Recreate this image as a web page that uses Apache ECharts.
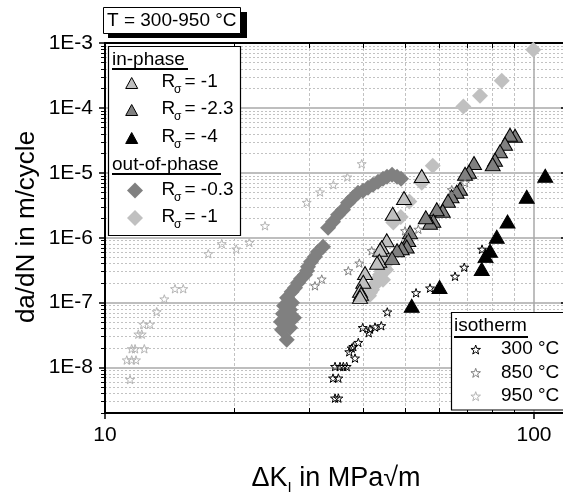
<!DOCTYPE html>
<html>
<head>
<meta charset="utf-8">
<script src="https://cdn.jsdelivr.net/npm/echarts@6/dist/echarts.min.js"></script>
<style>
html, body { margin: 0; padding: 0; background: #fff; }
#chart { width: 563px; height: 498px; }
</style>
</head>
<body>
<div id="chart"></div>
<script>
// Crack growth rate da/dN versus stress intensity range ΔK (log-log)

// in-phase, R_sigma = -1
const ipR1 = [[54.73,8.93e-6],[49.77,4.09e-6],[46.84,2.34e-6],[45.36,9.15e-7],[44.16,7.14e-7],[43.75,6.53e-7],
  [43.59,4.43e-7],[43.06,4.12e-7],[40.37,2.86e-7],[40.00,2.10e-7],[39.30,1.53e-7],[39.51,1.37e-7],[39.30,1.23e-7]];
// in-phase, R_sigma = -2.3
const ipR23 = [[90.31,3.73e-5],[87.90,3.86e-5],[85.57,2.81e-5],[83.31,2.15e-5],[81.11,1.59e-5],[80.11,1.36e-5],
  [72.46,1.42e-5],[70.55,1.04e-5],[69.06,9.69e-6],[67.23,5.69e-6],[66.04,5.12e-6],[64.23,4.36e-6],[63.03,3.72e-6],
  [61.27,2.61e-6],[59.33,2.75e-6],[58.25,1.83e-6],[57.23,1.70e-6],[55.93,2.07e-6],[51.40,1.22e-6],[50.93,9.22e-7],
  [50.49,7.34e-7],[49.16,6.89e-7],[47.94,6.42e-7],[46.67,4.86e-7]];
// in-phase, R_sigma = -4
const ipR4 = [[51.87,8.95e-8],[60.22,1.74e-7],[75.53,3.30e-7],[77.09,5.22e-7],[78.96,6.31e-7],[81.87,1.04e-6],
  [86.74,1.78e-6],[96.16,4.28e-6],[106.2,9.02e-6]];
// out-of-phase, R_sigma = -0.3
const oopR03 = [[26.52,2.68e-8],[25.86,3.82e-8],[27.00,4.10e-8],[25.72,5.08e-8],[26.71,5.45e-8],[27.58,5.85e-8],
  [25.99,6.75e-8],[27.00,7.78e-8],[26.14,8.95e-8],[27.29,9.96e-8],[26.57,1.19e-7],[27.24,1.47e-7],[27.73,1.70e-7],
  [28.18,2.03e-7],[28.63,2.33e-7],[29.25,2.69e-7],[29.57,3.10e-7],[29.73,3.57e-7],[30.21,4.27e-7],[30.86,5.09e-7],
  [31.37,6.08e-7],[32.23,7.26e-7],[33.11,1.43e-6],[34.00,1.77e-6],[34.93,2.26e-6],[35.87,2.70e-6],[36.85,3.46e-6],
  [37.85,4.13e-6],[38.88,4.93e-6],[39.94,5.30e-6],[41.02,5.89e-6],[42.14,6.56e-6],[43.29,7.30e-6],[44.46,8.11e-6],
  [45.43,8.71e-6],[46.67,9.35e-6],[47.94,8.71e-6],[48.98,8.11e-6]];
// out-of-phase, R_sigma = -1
const oopR1 = [[99.63,7.88e-4],[84.08,2.63e-4],[74.84,1.54e-4],[68.43,1.05e-4],[58.06,1.29e-5],[54.73,7.04e-6],
  [51.21,3.62e-6],[48.90,2.08e-6],[46.99,1.72e-6],[45.68,4.58e-7],[45.19,3.97e-7],[45.19,3.21e-7],[44.70,3.45e-7],
  [44.22,3.10e-7],[43.75,2.69e-7],[44.46,2.25e-7],[43.29,2.33e-7],[42.82,2.03e-7],[42.36,1.82e-7],[41.91,1.58e-7],
  [41.46,1.42e-7],[41.24,1.28e-7]];
// isothermal tests
const iso300 = [[34.37,3.39e-9],[34.99,3.39e-9],[34.00,6.89e-9],[34.99,6.89e-9],[34.37,1.04e-8],[35.30,1.04e-8],
  [35.93,1.04e-8],[36.59,1.04e-8],[38.26,1.40e-8],[37.10,1.75e-8],[37.58,2.00e-8],[37.91,2.11e-8],[38.94,2.44e-8],
  [39.87,4.13e-8],[41.17,3.44e-8],[41.46,3.92e-8],[42.59,4.21e-8],[44.05,4.41e-8],[45.50,7.19e-8],[53.09,1.42e-7],
  [57.23,1.68e-7],[65.45,2.55e-7],[68.76,3.51e-7],[75.65,6.65e-7]];
const iso850 = [[30.86,1.82e-7],[32.00,2.31e-7],[36.91,3.10e-7],[39.15,4.07e-7],[41.84,6.31e-7],[50.05,1.28e-6],
  [53.74,1.35e-6],[64.30,5.49e-6],[69.06,7.04e-6]];
const iso950 = [[11.44,6.56e-9],[11.24,1.31e-8],[11.54,1.31e-8],[11.81,1.31e-8],[11.54,1.95e-8],[11.75,1.95e-8],
  [12.35,1.95e-8],[11.96,3.28e-8],[12.18,3.28e-8],[12.28,4.65e-8],[12.73,4.65e-8],[13.20,7.24e-8],[13.75,1.14e-7],
  [14.56,1.64e-7],[15.22,1.64e-7],[17.41,5.67e-7],[18.71,8.09e-7],[20.23,6.70e-7],[21.70,8.47e-7],[23.60,1.53e-6],
  [29.52,3.50e-6],[31.71,5.06e-6],[34.06,6.56e-6],[36.71,8.61e-6],[39.66,1.38e-5]];

// axis ranges and tick labels
const xRange = [10, 120];
const yRange = [2e-9, 1e-3];
const xMajorTicks = [10, 100];
const xMinorTicks = [20, 30, 40, 50, 60, 70, 80, 90];
const yMajorTicks = [1e-8, 1e-7, 1e-6, 1e-5, 1e-4, 1e-3];
const yMajorLabels = ['1E-8', '1E-7', '1E-6', '1E-5', '1E-4', '1E-3'];

const FONT = '"Liberation Sans", Arial, Helvetica, sans-serif';
const LIGHT = '#c0c0c0', MID = '#808080', DARK = '#000000';
const STAR = 'path://M50 0 L61.76 33.82 L97.55 34.55 L69.02 56.18 L79.39 90.45 L50 70 L20.61 90.45 L30.98 56.18 L2.45 34.55 L38.24 33.82 Z';

const lg = Math.log10;
const xL = xRange.map(lg), yL = yRange.map(lg);
const yMinorTicks = [];
for (let n = -9; n <= -4; n++) {
  for (let k = 2; k <= 9; k++) {
    const v = n + lg(k);
    if (v >= yL[0] - 1e-9 && v <= yL[1]) yMinorTicks.push(v);
  }
}

const chart = echarts.init(document.getElementById('chart'), null, { renderer: 'canvas' });

const grid = { left: 105, top: 43, width: 463, height: 370, outerBoundsMode: 'none', containLabel: false };

const minorGrid = { color: '#c2c2c2', width: 1, type: [2, 2] };
const majorGrid = { color: '#a9a9a9', width: 1.5, type: 'solid' };
const axisBlack = { show: true, onZero: false, lineStyle: { color: '#000', width: 2 } };

function scatter(name, data, symbol, size, color, border, fillStar) {
  return {
    name, type: 'scatter', xAxisIndex: 0, yAxisIndex: 0, data,
    symbol, symbolSize: size, symbolKeepAspect: true,
    itemStyle: {
      color: fillStar ? 'rgba(255,255,255,0)' : color,
      borderColor: border || color,
      borderWidth: border ? 1 : 0,
      opacity: 1
    },
    emphasis: { disabled: true },
    silent: true
  };
}

// legend graphics
function text(x, y, str, size, extra) {
  return {
    type: 'text', x, y, z: 100,
    style: Object.assign({
      text: str, fill: '#000', fontSize: size, fontFamily: FONT,
      align: 'left', verticalAlign: 'middle', textAlign: 'left', textVerticalAlign: 'middle'
    }, extra || {})
  };
}
function rsigma(x, y, value) {
  return [text(x, y, 'R', 19), text(x + 12.5, y + 8, 'σ', 12), text(x + 23, y, '= ' + value, 19)];
}
function tri(cx, cy, w, h, fill) {
  return { type: 'polygon', z: 100, shape: { points: [[cx, cy - h / 2], [cx + w / 2, cy + h / 2], [cx - w / 2, cy + h / 2]] },
    style: { fill, stroke: '#000', lineWidth: 1 } };
}
function dia(cx, cy, s, fill) {
  return { type: 'polygon', z: 100, shape: { points: [[cx, cy - s / 2], [cx + s / 2, cy], [cx, cy + s / 2], [cx - s / 2, cy]] },
    style: { fill } };
}
function star(cx, cy, r, stroke) {
  const pts = [];
  for (let i = 0; i < 10; i++) {
    const a = -Math.PI / 2 + i * Math.PI / 5;
    const rr = i % 2 ? r * 0.4 : r;
    pts.push([cx + rr * Math.cos(a), cy + rr * Math.sin(a)]);
  }
  return { type: 'polygon', z: 100, shape: { points: pts }, style: { fill: '#fff', stroke, lineWidth: 1 } };
}
function uline(x1, x2, y) {
  return { type: 'line', z: 100, shape: { x1, y1: y, x2, y2: y }, style: { stroke: '#000', lineWidth: 2 } };
}

const graphics = [
  // temperature tag
  { type: 'rect', z: 99, shape: { x: 108, y: 12, width: 139, height: 26 }, style: { fill: '#000' } },
  { type: 'rect', z: 100, shape: { x: 103.5, y: 7.5, width: 137, height: 26 }, style: { fill: '#fff', stroke: '#000', lineWidth: 1 } },
  text(107, 21, 'T = 300-950 °C', 19),
  // loading-phase legend
  { type: 'rect', z: 100, shape: { x: 108.5, y: 46.5, width: 132, height: 189 }, style: { fill: '#fff', stroke: '#000', lineWidth: 1.2 } },
  text(112, 60, 'in-phase', 19), uline(112, 188, 69),
  tri(131.7, 83, 12, 11, LIGHT), ...rsigma(161.5, 82, '-1'),
  tri(131.7, 110, 12, 11, MID), ...rsigma(161.5, 109, '-2.3'),
  tri(131.7, 138, 12, 11, DARK), ...rsigma(161.5, 137, '-4'),
  text(112, 165, 'out-of-phase', 19), uline(112, 221, 174),
  dia(135, 190.5, 16, MID), ...rsigma(161.5, 190, '-0.3'),
  dia(135, 218, 16, LIGHT), ...rsigma(161.5, 217, '-1'),
  // isotherm legend
  { type: 'rect', z: 100, shape: { x: 451.5, y: 312.5, width: 140, height: 97.5 }, style: { fill: '#fff', stroke: '#000', lineWidth: 1.2 } },
  text(454, 326, 'isotherm', 19), uline(454, 528, 337),
  star(475.7, 350, 5, DARK), text(501, 349, '300 °C', 19),
  star(475.7, 373.3, 5, MID), text(501, 372.5, '850 °C', 19),
  star(475.7, 396.7, 5, '#b4b4b4'), text(501, 396, '950 °C', 19),
  // axis titles
  { type: 'text', x: 336, y: 477, z: 100,
    style: { text: '{a|ΔK}{b|I}{a| in MPa√m}', fontFamily: FONT, fill: '#000',
      align: 'center', verticalAlign: 'middle', textAlign: 'center', textVerticalAlign: 'middle',
      rich: { a: { fontSize: 27, fontFamily: FONT, lineHeight: 30, verticalAlign: 'bottom' },
              b: { fontSize: 15, fontFamily: FONT, lineHeight: 15, verticalAlign: 'bottom', padding: [0, 0, -3, 0] } } } },
  { type: 'text', x: 27, y: 227, rotation: Math.PI / 2, z: 100,
    style: { text: 'da/dN in m/cycle', fontSize: 26, fontFamily: FONT, fill: '#000',
      align: 'center', verticalAlign: 'middle', textAlign: 'center', textVerticalAlign: 'middle' } }
];

const option = {
  animation: false,
  backgroundColor: '#fff',
  grid,
  xAxis: [
    { type: 'log', logBase: 10, min: xRange[0], max: xRange[1], show: false },
    { type: 'value', min: xL[0], max: xL[1], position: 'bottom',
      axisLine: { show: false },
      axisTick: { show: true, inside: true, length: 5, customValues: xMinorTicks.map(lg), lineStyle: { color: '#000', width: 1 } },
      axisLabel: { show: false },
      splitLine: { show: true, lineStyle: { color: '#c2c2c2', width: 1, type: [3, 2] } } },
    { type: 'value', min: xL[0], max: xL[1], position: 'bottom',
      axisLine: axisBlack,
      axisTick: { show: true, inside: false, length: 6, customValues: xMajorTicks.map(lg), lineStyle: { color: '#000', width: 1.5 } },
      axisLabel: { show: true, customValues: xMajorTicks.map(lg), margin: 12, fontSize: 21, fontFamily: FONT, color: '#000',
        formatter: v => String(Math.round(Math.pow(10, v))) },
      splitLine: { show: true, lineStyle: majorGrid } },
    { type: 'value', min: xL[0], max: xL[1], position: 'top',
      axisLine: axisBlack,
      axisTick: { show: true, inside: true, length: 5, customValues: xMinorTicks.map(lg), lineStyle: { color: '#000', width: 1 } },
      axisLabel: { show: false }, splitLine: { show: false } }
  ],
  yAxis: [
    { type: 'log', logBase: 10, min: yRange[0], max: yRange[1], show: false },
    { type: 'value', min: yL[0], max: yL[1], position: 'left',
      axisLine: { show: false },
      axisTick: { show: true, inside: false, length: 4, customValues: yMinorTicks, lineStyle: { color: '#000', width: 1 } },
      axisLabel: { show: false },
      splitLine: { show: true, lineStyle: minorGrid } },
    { type: 'value', min: yL[0], max: yL[1], position: 'left',
      axisLine: axisBlack,
      axisTick: { show: true, inside: false, length: 6, customValues: yMajorTicks.map(lg), lineStyle: { color: '#000', width: 1.5 } },
      axisLabel: { show: true, customValues: yMajorTicks.map(lg), margin: 12, fontSize: 21, fontFamily: FONT, color: '#000',
        formatter: v => yMajorLabels[yMajorTicks.findIndex(t => Math.abs(lg(t) - v) < 1e-6)] },
      splitLine: { show: true, lineStyle: majorGrid } },
    { type: 'value', min: yL[0], max: yL[1], position: 'right',
      axisLine: axisBlack,
      axisTick: { show: true, inside: true, length: 7, customValues: yMajorTicks.map(lg), lineStyle: { color: '#000', width: 1.5 } },
      axisLabel: { show: false }, splitLine: { show: false } }
  ],
  series: [
    scatter('OP R=-1', oopR1, 'diamond', 16, LIGHT),
    scatter('OP R=-0.3', oopR03, 'diamond', 16, MID),
    scatter('IP R=-1', ipR1, 'triangle', [15, 13], LIGHT, '#000'),
    scatter('IP R=-2.3', ipR23, 'triangle', [15, 13], MID, '#000'),
    scatter('IP R=-4', ipR4, 'triangle', [15, 13], DARK, '#000'),
    scatter('950 °C', iso950, STAR, 9, '#b4b4b4', '#b4b4b4', true),
    scatter('850 °C', iso850, STAR, 9, MID, MID, true),
    scatter('300 °C', iso300, STAR, 9, DARK, DARK, true)
  ],
  graphic: graphics
};

chart.setOption(option);
</script>
</body>
</html>
